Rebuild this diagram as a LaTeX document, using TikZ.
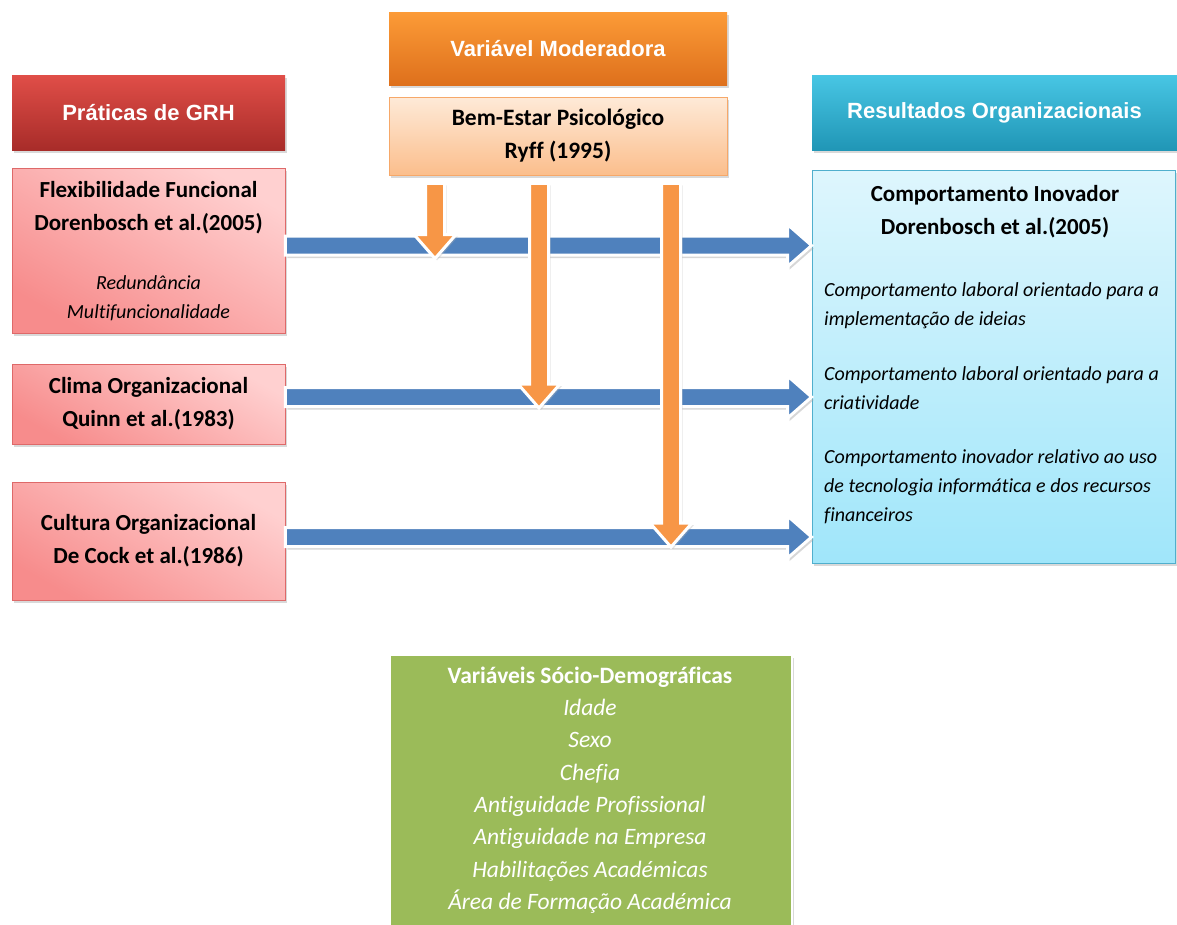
\documentclass[tikz,border=0pt]{standalone}
\usepackage{fontspec}
\setmainfont{Carlito}[Ligatures={TeX,NoCommon}]
\newfontfamily\headfont{Liberation Sans}
\usetikzlibrary{calc,shadows}

\definecolor{redtop}{RGB}{224,78,72}
\definecolor{redbot}{RGB}{168,44,41}
\definecolor{orgtop}{RGB}{252,155,55}
\definecolor{orgbot}{RGB}{222,112,28}
\definecolor{cyntop}{RGB}{72,198,228}
\definecolor{cynbot}{RGB}{32,150,182}
\definecolor{pinklt}{RGB}{255,208,208}
\definecolor{pinkdk}{RGB}{247,140,140}
\definecolor{pinkln}{RGB}{222,105,105}
\definecolor{peachlt}{RGB}{254,234,216}
\definecolor{peachdk}{RGB}{251,190,140}
\definecolor{peachln}{RGB}{246,168,105}
\definecolor{skylt}{RGB}{222,246,253}
\definecolor{skydk}{RGB}{160,230,250}
\definecolor{skyln}{RGB}{80,175,205}
\definecolor{leaf}{RGB}{155,187,89}
\definecolor{flowblue}{RGB}{79,129,189}
\definecolor{floworange}{RGB}{247,150,70}

% horizontal block arrow, tip at #2
\newcommand{\flowH}[2]{%
  \begin{scope}[transform canvas={xshift=2pt,yshift=-3pt}]
    \fill[black!35,opacity=0.45] ($(#1)+(0,-9.5)$) -- ($(#2)+(-24,-9.5)$) -- ($(#2)+(-24,-21)$) -- (#2)
      -- ($(#2)+(-24,21)$) -- ($(#2)+(-24,9.5)$) -- ($(#1)+(0,9.5)$) -- cycle;
  \end{scope}
  \filldraw[fill=flowblue,draw=white,line width=3pt,line join=miter]
    ($(#1)+(0,-9.5)$) -- ($(#2)+(-24,-9.5)$) -- ($(#2)+(-24,-21)$) -- (#2)
    -- ($(#2)+(-24,21)$) -- ($(#2)+(-24,9.5)$) -- ($(#1)+(0,9.5)$) -- cycle;}

% vertical block arrow, tip at #2
\newcommand{\flowV}[2]{%
  \begin{scope}[transform canvas={xshift=2pt,yshift=-2pt}]
    \fill[black!30,opacity=0.35] ($(#1)+(-9.5,0)$) -- ($(#2)+(-9.5,-24)$) -- ($(#2)+(-21,-24)$) -- (#2)
      -- ($(#2)+(21,-24)$) -- ($(#2)+(9.5,-24)$) -- ($(#1)+(9.5,0)$) -- cycle;
  \end{scope}
  \filldraw[fill=floworange,draw=white,line width=3pt,line join=miter]
    ($(#1)+(-9.5,0)$) -- ($(#2)+(-9.5,-24)$) -- ($(#2)+(-21,-24)$) -- (#2)
    -- ($(#2)+(21,-24)$) -- ($(#2)+(9.5,-24)$) -- ($(#1)+(9.5,0)$) -- cycle;}

\begin{document}
\begin{tikzpicture}[x=1pt,y=-1pt,
  box/.style={rectangle,inner sep=0pt,align=center,
    drop shadow={opacity=0.3,shadow xshift=2pt,shadow yshift=-3pt}},
  header/.style={box,text=white,font=\headfont\bfseries\fontsize{22}{26}\selectfont},
  redhead/.style={header,top color=redtop,bottom color=redbot},
  orghead/.style={header,top color=orgtop,bottom color=orgbot},
  cynhead/.style={header,top color=cyntop,bottom color=cynbot},
  pinkbox/.style={box,draw=pinkln,line width=0.8pt,top color=pinklt,bottom color=pinkdk,shading angle=-30,
    font=\bfseries\fontsize{23}{33}\selectfont},
  peachbox/.style={box,draw=peachln,line width=0.8pt,top color=peachlt,bottom color=peachdk,
    font=\bfseries\fontsize{23.5}{33}\selectfont},
  skybox/.style={box,draw=skyln,line width=0.8pt,top color=skylt,bottom color=skydk},
  boldtext/.style={inner sep=0pt,align=center,font=\bfseries\fontsize{23}{33}\selectfont},
  itext/.style={inner sep=0pt,font=\itshape\fontsize{20}{29}\selectfont}]

\useasboundingbox (0,0) rectangle (1177,924);
\clip (0,0) rectangle (1177,924);

% column headers
\node[redhead,minimum width=273,minimum height=75] (hgrh) at (148.5,112.5) {Práticas de GRH};
\node[orghead,minimum width=338,minimum height=73] (hmod) at (558,48.5) {Variável Moderadora};
\node[cynhead,minimum width=365,minimum height=75] (hres) at (994.5,112.5) {Resultados Organizacionais};

% moderator
\node[peachbox,minimum width=338,minimum height=78] (bem) at (558,136)
  {Bem-Estar Psicológico\\Ryff (1995)};

% HRM practices
\node[pinkbox,minimum width=273,minimum height=165] (flex) at (148.5,250.5) {};
\node[boldtext] (flext) at (148.5,207.5) {Flexibilidade Funcional\\Dorenbosch et al.(2005)};
\node[itext,align=center] (flexi) at (148.5,298.5) {Redundância\\Multifuncionalidade};
\node[pinkbox,minimum width=273,minimum height=80] (clima) at (148.5,404)
  {Clima Organizacional\\Quinn et al.(1983)};
\node[pinkbox,minimum width=273,minimum height=118] (cult) at (148.5,541)
  {Cultura Organizacional\\De Cock et al.(1986)};

% outcomes
\node[skybox,minimum width=363,minimum height=393] (res) at (993.5,366.5) {};
\node[boldtext] (rest) at (995,212) {Comportamento Inovador\\Dorenbosch et al.(2005)};
\node[itext,align=left,anchor=west] (res1) at (824,305.5)
  {Comportamento laboral orientado para a\\implementação de ideias};
\node[itext,align=left,anchor=west] (res2) at (824,388.5)
  {Comportamento laboral orientado para a\\criatividade};
\node[itext,align=left,anchor=west] (res3) at (824,486.5)
  {Comportamento inovador relativo ao uso\\de tecnologia informática e dos recursos\\financeiros};

% socio-demographic variables
\node[box,fill=leaf,draw=white,line width=2pt,minimum width=402,minimum height=290] (demo) at (590.5,800) {};
\node[inner sep=0pt,align=center,text=white,font=\fontsize{23.5}{32.3}\selectfont] (demot) at (590,790)
  {\textbf{Variáveis Sócio-Demográficas}\\\textit{Idade}\\\textit{Sexo}\\\textit{Chefia}\\
   \textit{Antiguidade Profissional}\\\textit{Antiguidade na Empresa}\\
   \textit{Habilitações Académicas}\\\textit{Área de Formação Académica}};

% end points of the block arrows
\path (flex.east) ++(0,-5) coordinate (f1);
\path (clima.east) ++(0,-7) coordinate (f2);
\path (cult.east) ++(0,-4) coordinate (f3);
\coordinate (e1) at (res.west |- f1);
\coordinate (e2) at (res.west |- f2);
\coordinate (e3) at (res.west |- f3);
\path (bem.south) ++(-123,8) coordinate (m1);
\path (bem.south) ++(-19,8) coordinate (m2);
\path (bem.south) ++(113,8) coordinate (m3);
\coordinate (m1x) at (m1 |- f1);
\coordinate (m2x) at (m2 |- f2);
\coordinate (m3x) at (m3 |- f3);
\coordinate (t1) at ($(m1x)+(0,13)$);
\coordinate (t2) at ($(m2x)+(0,11)$);
\coordinate (t3) at ($(m3x)+(0,10)$);

% practice -> outcome arrows
\flowH{f1}{e1}
\flowH{f2}{e2}
\flowH{f3}{e3}

% moderator arrows
\flowV{m1}{t1}
\flowV{m2}{t2}
\flowV{m3}{t3}

\end{tikzpicture}
\end{document}
